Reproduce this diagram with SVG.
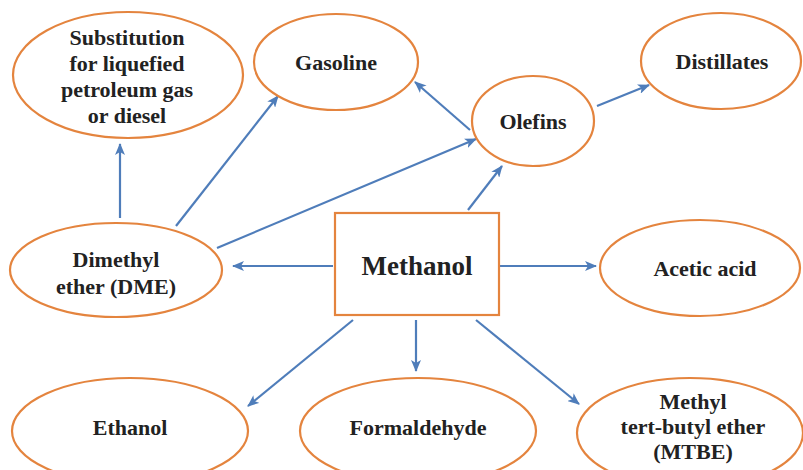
<svg xmlns="http://www.w3.org/2000/svg" width="803" height="470" viewBox="0 0 803 470">
<style>
.n{fill:#fff;stroke:#E4843E;stroke-width:2.2}
.t{font-family:"Liberation Serif","Times New Roman",serif;font-weight:bold;font-size:22px;fill:#222;text-anchor:middle}
.big{font-size:27px}
.c line{stroke:#4F7DBA;stroke-width:2.2;marker-end:url(#ah)}
</style>
<defs>
<marker id="ah" viewBox="0 0 12 10" refX="11" refY="5" markerWidth="12" markerHeight="10" markerUnits="userSpaceOnUse" orient="auto">
<path d="M0,0 L12,5 L0,10 L3,5 Z" fill="#4F7DBA"/>
</marker>
</defs>
<rect width="803" height="470" fill="#fff"/>
<g class="c">
<line x1="333" y1="266" x2="233" y2="266"/>
<line x1="500" y1="266" x2="596" y2="266"/>
<line x1="468" y1="210" x2="502" y2="166"/>
<line x1="217" y1="248" x2="476" y2="139"/>
<line x1="176" y1="226" x2="278" y2="96"/>
<line x1="120" y1="218" x2="120" y2="144"/>
<line x1="470" y1="130" x2="415" y2="82"/>
<line x1="597" y1="106" x2="649" y2="85"/>
<line x1="353" y1="320" x2="248" y2="406"/>
<line x1="416" y1="320" x2="416" y2="371"/>
<line x1="476" y1="320" x2="579" y2="404"/>
</g>
<g id="methanol"><rect class="n" x="335" y="213" width="164" height="102"/><text class="t big" x="417" y="275">Methanol</text></g>
<g id="substitution"><ellipse class="n" cx="128" cy="75" rx="115" ry="63"/>
<text class="t" x="127" y="45">Substitution</text><text class="t" x="127" y="71">for liquefied</text><text class="t" x="127" y="97">petroleum gas</text><text class="t" x="127" y="123">or diesel</text></g>
<g id="gasoline"><ellipse class="n" cx="336" cy="62" rx="82" ry="48"/><text class="t" x="336" y="70">Gasoline</text></g>
<g id="olefins"><ellipse class="n" cx="533" cy="121" rx="61" ry="45"/><text class="t" x="533" y="129">Olefins</text></g>
<g id="distillates"><ellipse class="n" cx="721" cy="61" rx="80" ry="48"/><text class="t" x="722" y="69">Distillates</text></g>
<g id="dme"><ellipse class="n" cx="116" cy="270" rx="106" ry="47"/><text class="t" x="116" y="267">Dimethyl</text><text class="t" x="116" y="294">ether (DME)</text></g>
<g id="acetic"><ellipse class="n" cx="700" cy="268" rx="100" ry="48"/><text class="t" x="705" y="276">Acetic acid</text></g>
<g id="ethanol"><ellipse class="n" cx="130" cy="431" rx="118" ry="53"/><text class="t" x="130" y="435">Ethanol</text></g>
<g id="formaldehyde"><ellipse class="n" cx="418" cy="431" rx="118" ry="53"/><text class="t" x="418" y="435">Formaldehyde</text></g>
<g id="mtbe"><ellipse class="n" cx="690" cy="433" rx="113" ry="55"/><text class="t" x="693" y="409">Methyl</text><text class="t" x="693" y="434">tert-butyl ether</text><text class="t" x="693" y="459">(MTBE)</text></g>
</svg>
